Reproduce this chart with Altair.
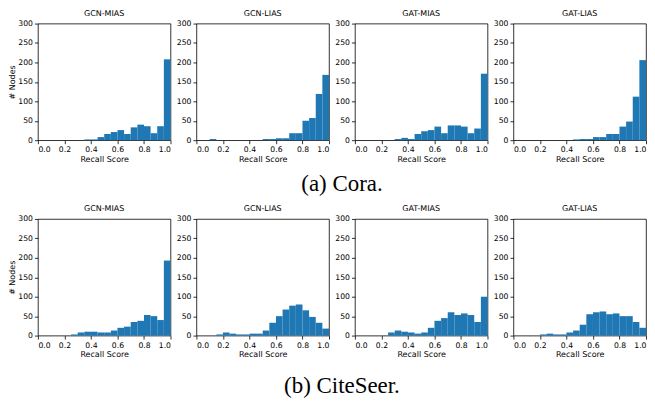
import altair as alt
import pandas as pd

bin_edges = [round(i * 0.05, 2) for i in range(21)]

panel_titles = ["GCN-MIAS", "GCN-LIAS", "GAT-MIAS", "GAT-LIAS"]

cora_gcn_mias = [0,0,0,0,0,0,0,2,2,8,16,21,26,16,33,40,36,18,36,208]
cora_gcn_lias = [0,0,3,0,0,0,0,0,0,0,3,3,5,5,18,18,50,57,119,168]
cora_gat_mias = [0,0,0,0,0,0,3,6,3,16,23,26,35,18,38,38,35,18,30,171]
cora_gat_lias = [0,0,0,0,0,0,0,0,0,2,3,3,8,8,16,16,35,48,112,206]

cite_gcn_mias = [0,0,0,0,0,3,8,10,10,8,8,13,20,23,35,38,53,50,40,193]
cite_gcn_lias = [0,0,0,3,8,5,3,3,5,5,13,33,50,67,77,80,65,48,33,18]
cite_gat_mias = [0,0,0,0,0,8,13,10,8,5,8,20,38,45,60,53,57,53,35,100]
cite_gat_lias = [0,0,0,0,3,5,3,3,8,13,28,55,60,62,55,57,50,50,35,20]

captions = ["(a) Cora.", "(b) CiteSeer."]

W = 133
H = 117
SP = 26
BLUE = "#1f77b4"
SANS = "DejaVu Sans"


def panel(counts, title, first):
    df = pd.DataFrame({
        "lo": bin_edges[:-1],
        "hi": bin_edges[1:],
        "count": counts,
    })
    df = df[df["count"] > 0]
    if first:
        yaxis = alt.Axis(values=[0, 50, 100, 150, 200, 250, 300],
                         title="# Nodes", titlePadding=1)
    else:
        yaxis = alt.Axis(values=[0, 50, 100, 150, 200, 250, 300], title=None)
    return (
        alt.Chart(df)
        .mark_rect(color=BLUE)
        .encode(
            x=alt.X("lo:Q", scale=alt.Scale(domain=[0, 1], nice=False),
                    axis=alt.Axis(values=[0, 0.2, 0.4, 0.6, 0.8, 1.0], format=".1f",
                                  title="Recall Score", titlePadding=2)),
            x2="hi:Q",
            y=alt.Y("count:Q", scale=alt.Scale(domain=[0, 300], nice=False), axis=yaxis),
            y2=alt.datum(0),
        )
        .properties(width=W, height=H,
                    title=alt.TitleParams(title, fontSize=8, font=SANS, fontWeight="normal",
                                          color="black", offset=2))
    )


def row(series):
    charts = [panel(s, t, i == 0) for i, (s, t) in enumerate(zip(series, panel_titles))]
    return alt.hconcat(*charts, spacing=SP, bounds="flush")


def caption(text, h, ypos):
    total_w = 4 * W + 3 * SP
    df = pd.DataFrame({"t": [text]})
    return (
        alt.Chart(df)
        .mark_text(font="Liberation Serif", fontSize=23, color="black", baseline="middle")
        .encode(text="t:N", x=alt.value(total_w / 2), y=alt.value(ypos))
        .properties(width=total_w, height=h, view=alt.ViewBackground(stroke="transparent"))
    )


row1 = row([cora_gcn_mias, cora_gcn_lias, cora_gat_mias, cora_gat_lias])
row2 = row([cite_gcn_mias, cite_gcn_lias, cite_gat_mias, cite_gat_lias])

chart = (
    alt.vconcat(row1, caption(captions[0], 38, 19), row2, caption(captions[1], 40, 26),
                spacing=0)
    .properties(padding=0, background="white")
    .configure_view(stroke="black", strokeWidth=0.8)
    .configure_axis(
        labelFont=SANS, labelFontSize=7.7, labelColor="black",
        titleFont=SANS, titleFontSize=8, titleFontWeight="normal", titleColor="black",
        tickColor="black", tickSize=3.5, tickWidth=0.8, labelPadding=2,
        domain=False, grid=False,
    )
)

chart.save("out.html", embed_options={"renderer": "svg", "actions": False})
